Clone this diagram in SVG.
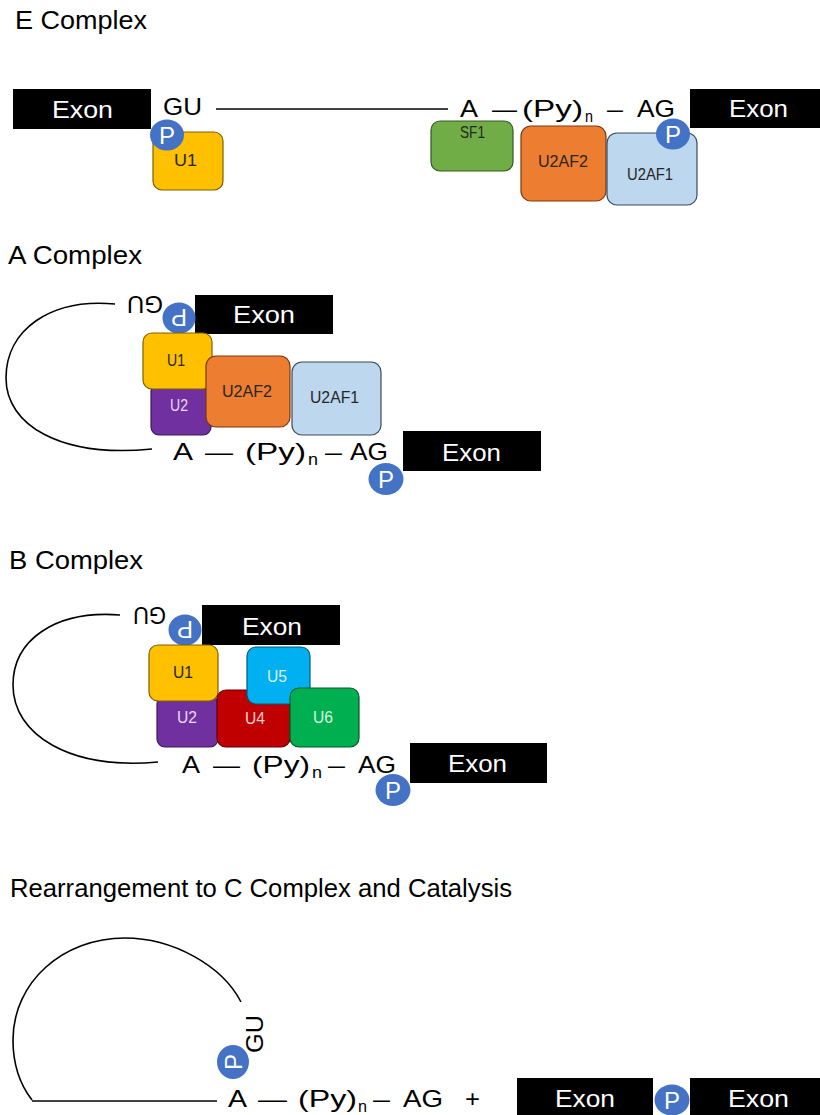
<svg xmlns="http://www.w3.org/2000/svg" width="820" height="1115" viewBox="0 0 820 1115">
<style>
text{font-family:"Liberation Sans",Arial,sans-serif;}
.title{font-size:25px;fill:#000}
.seq{font-size:24px;fill:#000}
.sub{font-size:16px;fill:#000}
.exon{fill:#000}
.exont{font-size:23px;fill:#fff}
.p{fill:#4472C4}
.pt{font-size:24px;fill:#fff;text-anchor:middle}
.box{stroke-width:1.2}
.lbl{font-size:16px;fill:#262626}
.lbll{font-size:16px}
.rna{fill:none;stroke:#000;stroke-width:1.6}
.u1{fill:#FFC000;stroke:#7F6000}
.u2{fill:#7030A0;stroke:#3C1A57}
.sf1{fill:#70AD47;stroke:#385723}
.u2af2{fill:#ED7D31;stroke:#7A3A10}
.u2af1{fill:#BDD7EE;stroke:#3D4B5C}
.u4{fill:#C00000;stroke:#600000}
.u5{fill:#00B0F0;stroke:#005A7A}
.u6{fill:#00B050;stroke:#005A28}
</style>
<rect width="820" height="1115" fill="#fff"/>

<g id="connectors">
<line class="rna" x1="216" y1="109" x2="448" y2="109"/>
<path class="rna" d="M115,304 C50,298 6,330 6,378 C6,425 60,458 152,449"/>
<path class="rna" d="M120,615 C55,610 13,640 13,685 C13,735 70,770 158,762"/>
<path class="rna" d="M32,1100 C18,1082 13,1062 13,1040 C13,982 63,938 125,938 C172,938 222,965 241,1002"/>
<line class="rna" x1="32" y1="1101" x2="217" y2="1101"/>
</g>

<!-- E complex -->
<g id="title-e"><text class="title" x="15" y="29" textLength="132" lengthAdjust="spacingAndGlyphs">E Complex</text></g>
<g id="e-exon-left"><rect class="exon" x="13" y="89" width="138" height="40"/><text class="exont" x="52" y="118" textLength="61" lengthAdjust="spacingAndGlyphs">Exon</text></g>
<g id="e-gu"><text class="seq" x="163" y="115" textLength="39" lengthAdjust="spacingAndGlyphs">GU</text></g>
<g id="e-u1"><rect class="box u1" x="153" y="132" width="70" height="58" rx="9"/><text class="lbl" x="174" y="166" textLength="23" lengthAdjust="spacingAndGlyphs">U1</text></g>
<g id="e-p1"><ellipse class="p" cx="167" cy="135" rx="17" ry="15.5"/><text class="pt" x="167" y="144">P</text></g>
<g id="e-seq">
<text class="seq" x="460" y="117" textLength="18" lengthAdjust="spacingAndGlyphs">A</text>
<text class="seq" x="492" y="117" textLength="25" lengthAdjust="spacingAndGlyphs">—</text>
<text class="seq" x="522" y="117" textLength="61" lengthAdjust="spacingAndGlyphs">(Py)</text>
<text class="sub" x="585" y="122" textLength="8" lengthAdjust="spacingAndGlyphs">n</text>
<text class="seq" x="607" y="117" textLength="16" lengthAdjust="spacingAndGlyphs">–</text>
<text class="seq" x="637" y="117" textLength="38" lengthAdjust="spacingAndGlyphs">AG</text>
</g>
<g id="e-exon-right"><rect class="exon" x="690" y="89" width="130" height="39"/><text class="exont" x="729" y="117" textLength="59" lengthAdjust="spacingAndGlyphs">Exon</text></g>
<g id="e-sf1"><rect class="box sf1" x="431" y="121" width="82" height="50" rx="9"/><text class="lbl" x="460" y="138" textLength="25" lengthAdjust="spacingAndGlyphs">SF1</text></g>
<g id="e-u2af2"><rect class="box u2af2" x="521" y="126" width="85" height="75" rx="10"/><text class="lbl" x="538" y="167" textLength="50" lengthAdjust="spacingAndGlyphs">U2AF2</text></g>
<g id="e-u2af1"><rect class="box u2af1" x="607" y="133" width="90" height="72" rx="10"/><text class="lbl" x="627" y="180" textLength="46" lengthAdjust="spacingAndGlyphs">U2AF1</text></g>
<g id="e-p2"><ellipse class="p" cx="673" cy="134" rx="17" ry="15.5"/><text class="pt" x="673" y="143">P</text></g>

<!-- A complex -->
<g id="title-a"><text class="title" x="8" y="264" textLength="134" lengthAdjust="spacingAndGlyphs">A Complex</text></g>
<g id="a-gu"><text class="seq" x="163" y="296" transform="rotate(180 163 296)" textLength="36" lengthAdjust="spacingAndGlyphs">GU</text></g>
<g id="a-exon-top"><rect class="exon" x="195" y="295" width="138" height="39"/><text class="exont" x="233" y="323" textLength="62" lengthAdjust="spacingAndGlyphs">Exon</text></g>
<g id="a-p1"><ellipse class="p" cx="179" cy="318" rx="16.5" ry="15.5"/><text class="pt" x="179" y="327" transform="rotate(180 179 318)">P</text></g>
<g id="a-u2"><rect class="box u2" x="151" y="383" width="60" height="52" rx="8"/><text class="lbll" x="170" y="411" fill="#EAD8F5" textLength="18" lengthAdjust="spacingAndGlyphs">U2</text></g>
<g id="a-u1"><rect class="box u1" x="143" y="333" width="69" height="56" rx="9"/><text class="lbl" x="167" y="366" textLength="18" lengthAdjust="spacingAndGlyphs">U1</text></g>
<g id="a-u2af2"><rect class="box u2af2" x="206" y="356" width="84" height="71" rx="10"/><text class="lbl" x="222" y="397" textLength="50" lengthAdjust="spacingAndGlyphs">U2AF2</text></g>
<g id="a-u2af1"><rect class="box u2af1" x="292" y="362" width="89" height="73" rx="10"/><text class="lbl" x="310" y="403" textLength="49" lengthAdjust="spacingAndGlyphs">U2AF1</text></g>
<g id="a-seq">
<text class="seq" x="173" y="460" textLength="20" lengthAdjust="spacingAndGlyphs">A</text>
<text class="seq" x="205" y="460" textLength="28" lengthAdjust="spacingAndGlyphs">—</text>
<text class="seq" x="245" y="460" textLength="61" lengthAdjust="spacingAndGlyphs">(Py)</text>
<text class="sub" x="308" y="465" textLength="10" lengthAdjust="spacingAndGlyphs">n</text>
<text class="seq" x="325" y="460" textLength="17" lengthAdjust="spacingAndGlyphs">–</text>
<text class="seq" x="350" y="460" textLength="38" lengthAdjust="spacingAndGlyphs">AG</text>
</g>
<g id="a-p2"><ellipse class="p" cx="386" cy="479" rx="17.5" ry="16"/><text class="pt" x="386" y="488">P</text></g>
<g id="a-exon-right"><rect class="exon" x="403" y="431" width="138" height="40"/><text class="exont" x="442" y="461" textLength="59" lengthAdjust="spacingAndGlyphs">Exon</text></g>

<!-- B complex -->
<g id="title-b"><text class="title" x="9" y="569" textLength="134" lengthAdjust="spacingAndGlyphs">B Complex</text></g>
<g id="b-gu"><text class="seq" x="166" y="607" transform="rotate(180 166 607)" textLength="33" lengthAdjust="spacingAndGlyphs">GU</text></g>
<g id="b-exon-top"><rect class="exon" x="202" y="605" width="138" height="40"/><text class="exont" x="242" y="635" textLength="60" lengthAdjust="spacingAndGlyphs">Exon</text></g>
<g id="b-p1"><ellipse class="p" cx="185" cy="630" rx="16.5" ry="15.5"/><text class="pt" x="185" y="639" transform="rotate(180 185 630)">P</text></g>
<g id="b-u2"><rect class="box u2" x="157" y="696" width="61" height="51" rx="8"/><text class="lbll" x="177" y="723" fill="#EAD8F5" textLength="20" lengthAdjust="spacingAndGlyphs">U2</text></g>
<g id="b-u1"><rect class="box u1" x="149" y="645" width="69" height="56" rx="9"/><text class="lbl" x="173" y="678" textLength="20" lengthAdjust="spacingAndGlyphs">U1</text></g>
<g id="b-u4"><rect class="box u4" x="217" y="690" width="73" height="57" rx="9"/><text class="lbll" x="245" y="724" fill="#F8D0D0" textLength="20" lengthAdjust="spacingAndGlyphs">U4</text></g>
<g id="b-u5"><rect class="box u5" x="247" y="647" width="63" height="57" rx="9"/><text class="lbll" x="267" y="682" fill="#DDF0FF" textLength="20" lengthAdjust="spacingAndGlyphs">U5</text></g>
<g id="b-u6"><rect class="box u6" x="290" y="688" width="69" height="59" rx="9"/><text class="lbll" x="313" y="723" fill="#D8F2E0" textLength="20" lengthAdjust="spacingAndGlyphs">U6</text></g>
<g id="b-seq">
<text class="seq" x="182" y="773" textLength="18" lengthAdjust="spacingAndGlyphs">A</text>
<text class="seq" x="213" y="773" textLength="27" lengthAdjust="spacingAndGlyphs">—</text>
<text class="seq" x="252" y="773" textLength="58" lengthAdjust="spacingAndGlyphs">(Py)</text>
<text class="sub" x="312" y="778" textLength="10" lengthAdjust="spacingAndGlyphs">n</text>
<text class="seq" x="328" y="773" textLength="17" lengthAdjust="spacingAndGlyphs">–</text>
<text class="seq" x="358" y="773" textLength="38" lengthAdjust="spacingAndGlyphs">AG</text>
</g>
<g id="b-p2"><ellipse class="p" cx="393" cy="790" rx="17.5" ry="16"/><text class="pt" x="393" y="799">P</text></g>
<g id="b-exon-right"><rect class="exon" x="410" y="743" width="137" height="40"/><text class="exont" x="448" y="772" textLength="59" lengthAdjust="spacingAndGlyphs">Exon</text></g>

<!-- C complex -->
<g id="title-c"><text class="title" x="10" y="897" textLength="502" lengthAdjust="spacingAndGlyphs">Rearrangement to C Complex and Catalysis</text></g>
<g id="c-gu"><text class="seq" x="0" y="0" transform="translate(263 1053) rotate(-90)" textLength="38" lengthAdjust="spacingAndGlyphs">GU</text></g>
<g id="c-p1"><ellipse class="p" cx="233" cy="1062" rx="16" ry="17"/><text class="pt" x="0" y="9" transform="translate(233 1062) rotate(-90)">P</text></g>
<g id="c-seq">
<text class="seq" x="228" y="1107" textLength="19" lengthAdjust="spacingAndGlyphs">A</text>
<text class="seq" x="258" y="1107" textLength="29" lengthAdjust="spacingAndGlyphs">—</text>
<text class="seq" x="298" y="1107" textLength="59" lengthAdjust="spacingAndGlyphs">(Py)</text>
<text class="sub" x="358" y="1112" textLength="9" lengthAdjust="spacingAndGlyphs">n</text>
<text class="seq" x="373" y="1107" textLength="17" lengthAdjust="spacingAndGlyphs">–</text>
<text class="seq" x="403" y="1107" textLength="40" lengthAdjust="spacingAndGlyphs">AG</text>
<text class="seq" x="465" y="1107" textLength="15" lengthAdjust="spacingAndGlyphs">+</text>
</g>
<g id="c-exon-1"><rect class="exon" x="517" y="1078" width="136" height="37"/><text class="exont" x="555" y="1107" textLength="60" lengthAdjust="spacingAndGlyphs">Exon</text></g>
<g id="c-exon-2"><rect class="exon" x="690" y="1078" width="130" height="37"/><text class="exont" x="728" y="1107" textLength="61" lengthAdjust="spacingAndGlyphs">Exon</text></g>
<g id="c-p2"><ellipse class="p" cx="672" cy="1100" rx="17.5" ry="15.5"/><text class="pt" x="672" y="1109">P</text></g>
</svg>
